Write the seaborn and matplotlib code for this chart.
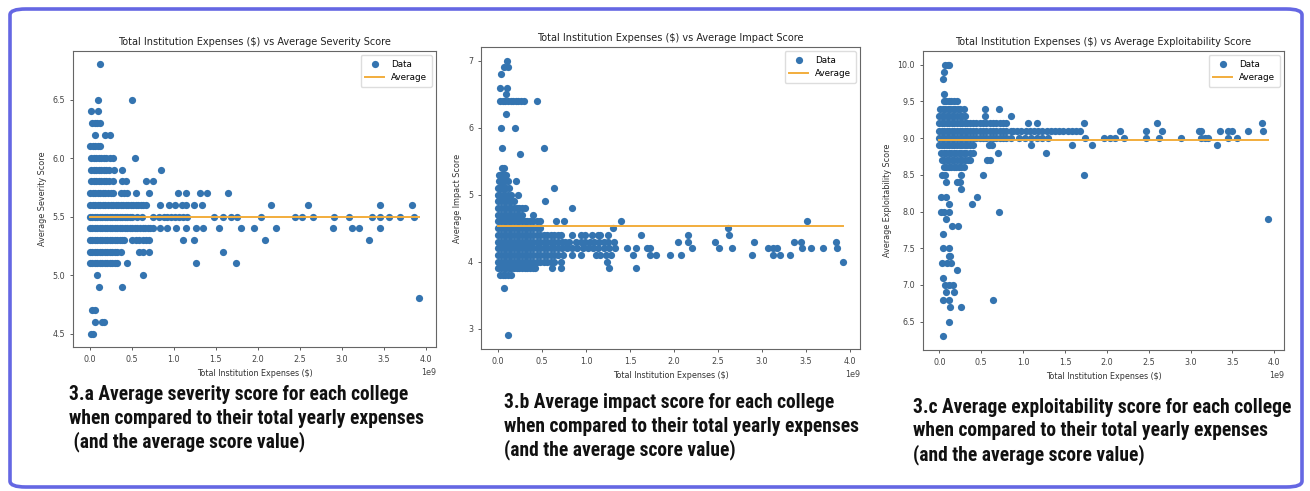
import os
import numpy as np
import pandas as pd
import matplotlib
matplotlib.use('Agg')
import matplotlib.pyplot as plt
import seaborn as sns
from matplotlib.patches import FancyBboxPatch
from matplotlib import font_manager as fm

# Expenses are in units of 1e9 dollars, one list of x values per score level

# 3.a Severity
sev_levels = [6.8, 6.5, 6.4, 6.3, 6.2, 6.1, 6.0, 5.9, 5.8, 5.7, 5.6, 5.5, 5.4, 5.3, 5.2, 5.1, 5.0, 4.9, 4.8, 4.7, 4.6, 4.5]
sev_xs = [
    [0.12],
    [0.10, 0.51],
    [0.02, 0.10],
    [0.03, 0.06, 0.09, 0.12],
    [0.07, 0.19, 0.24],
    [0.01, 0.04, 0.07, 0.10, 0.13],
    [0.02, 0.05, 0.08, 0.11, 0.14, 0.17, 0.20, 0.24, 0.28, 0.54],
    [0.02, 0.05, 0.08, 0.11, 0.14, 0.17, 0.20, 0.23, 0.29, 0.39, 0.85],
    [0.02, 0.05, 0.08, 0.11, 0.14, 0.17, 0.20, 0.23, 0.28, 0.39, 0.43, 0.67, 0.75],
    [0.01, 0.04, 0.07, 0.10, 0.13, 0.16, 0.19, 0.22, 0.25, 0.28, 0.37, 0.41, 0.45, 0.55, 0.71,
     1.05, 1.15, 1.31, 1.40, 1.64],
    [0.01, 0.04, 0.07, 0.10, 0.13, 0.16, 0.19, 0.22, 0.25, 0.28, 0.31, 0.34, 0.37, 0.40, 0.43,
     0.46, 0.49, 0.52, 0.55, 0.58, 0.61, 0.64, 0.67, 0.84, 0.94, 1.02, 1.10, 1.15, 1.24, 1.34,
     2.16, 2.60, 3.45, 3.83],
    [0.00, 0.03, 0.06, 0.09, 0.12, 0.15, 0.18, 0.21, 0.24, 0.27, 0.30, 0.33, 0.36, 0.39, 0.42,
     0.45, 0.48, 0.50, 0.57, 0.62, 0.75, 0.83, 0.88, 0.92, 0.97, 1.02, 1.06, 1.11, 1.16, 1.48,
     1.59, 1.68, 1.75, 2.04, 2.44, 2.52, 2.66, 2.90, 3.08, 3.35, 3.45, 3.56, 3.69, 3.86],
    [0.00, 0.03, 0.06, 0.09, 0.12, 0.15, 0.18, 0.21, 0.24, 0.27, 0.30, 0.33, 0.36, 0.39, 0.42,
     0.45, 0.48, 0.51, 0.54, 0.57, 0.60, 0.63, 0.66, 0.69, 0.72, 0.75, 0.84, 0.92, 1.03, 1.15,
     1.27, 1.35, 1.54, 1.80, 1.96, 2.21, 2.89, 3.12, 3.20, 3.45],
    [0.00, 0.03, 0.06, 0.09, 0.12, 0.15, 0.18, 0.21, 0.24, 0.27, 0.30, 0.33, 0.36, 0.39, 0.41,
     0.51, 0.55, 0.59, 0.63, 0.67, 0.71, 1.11, 1.24, 2.08, 3.32],
    [0.00, 0.03, 0.06, 0.09, 0.12, 0.15, 0.18, 0.21, 0.24, 0.27, 0.30, 0.33, 0.37, 0.59, 0.63,
     0.71, 1.59],
    [0.00, 0.03, 0.06, 0.09, 0.12, 0.15, 0.18, 0.21, 0.24, 0.27, 0.30, 0.33, 0.44, 1.27, 1.74],
    [0.09, 0.63],
    [0.11, 0.39],
    [3.92],
    [0.03, 0.07],
    [0.06, 0.15, 0.17],
    [0.02, 0.04],
]
sev_avg = 5.495

# 3.b Impact
imp_levels = [7.0, 6.9, 6.8, 6.6, 6.5, 6.4, 6.2, 6.0, 5.7, 5.6, 5.4, 5.3, 5.2, 5.1, 5.0, 4.9, 4.8, 4.7, 4.6, 4.5, 4.4, 4.3, 4.2, 4.1, 4.0, 3.9, 3.8, 3.6, 2.9]
imp_xs = [
    [0.10],
    [0.07, 0.11],
    [0.03],
    [0.02, 0.10],
    [0.09],
    [0.02, 0.05, 0.08, 0.11, 0.14, 0.17, 0.20, 0.23, 0.26, 0.29, 0.44],
    [0.09],
    [0.03, 0.19],
    [0.04, 0.52],
    [0.25],
    [0.04, 0.07],
    [0.01, 0.03, 0.05, 0.07, 0.09],
    [0.01, 0.03, 0.05, 0.08, 0.11, 0.20],
    [0.00, 0.02, 0.04, 0.06, 0.09, 0.12, 0.63],
    [0.00, 0.02, 0.05, 0.08, 0.11, 0.14, 0.23],
    [0.00, 0.03, 0.06, 0.09, 0.12, 0.15, 0.18, 0.53],
    [0.00, 0.03, 0.06, 0.09, 0.12, 0.15, 0.18, 0.21, 0.24, 0.27, 0.30, 0.84],
    [0.00, 0.03, 0.06, 0.09, 0.12, 0.15, 0.18, 0.21, 0.24, 0.27, 0.39],
    [0.00, 0.03, 0.06, 0.09, 0.12, 0.15, 0.18, 0.21, 0.24, 0.27, 0.30, 0.33, 0.36, 0.40, 0.44,
     0.48, 0.66, 0.75, 1.40, 3.51],
    [0.00, 0.03, 0.06, 0.09, 0.12, 0.15, 0.18, 0.21, 0.24, 0.27, 0.30, 0.33, 0.36, 0.40, 0.44,
     0.48, 1.31, 2.61],
    [0.00, 0.03, 0.06, 0.09, 0.12, 0.15, 0.18, 0.21, 0.24, 0.27, 0.30, 0.33, 0.36, 0.40, 0.44,
     0.48, 0.52, 0.56, 0.60, 0.64, 0.68, 0.71, 0.84, 0.94, 0.99, 1.07, 1.13, 1.16, 1.25, 1.63,
     2.16, 2.62],
    [0.00, 0.03, 0.06, 0.09, 0.12, 0.15, 0.18, 0.21, 0.24, 0.27, 0.30, 0.33, 0.36, 0.40, 0.44,
     0.48, 0.52, 0.56, 0.60, 0.64, 0.68, 0.72, 0.76, 0.80, 0.89, 0.94, 0.99, 1.04, 1.09, 1.15,
     1.20, 1.25, 1.32, 2.05, 2.16, 2.47, 2.91, 3.36, 3.45, 3.84],
    [0.00, 0.03, 0.06, 0.09, 0.12, 0.15, 0.18, 0.21, 0.24, 0.27, 0.30, 0.33, 0.36, 0.40, 0.44,
     0.48, 0.52, 0.56, 0.60, 0.64, 0.68, 0.72, 0.78, 0.84, 0.90, 0.96, 1.02, 1.08, 1.14, 1.20,
     1.26, 1.33, 1.47, 1.57, 1.69, 1.73, 2.20, 2.51, 2.66, 3.07, 3.13, 3.17, 3.46, 3.56, 3.69,
     3.86],
    [0.00, 0.03, 0.06, 0.09, 0.12, 0.15, 0.18, 0.21, 0.24, 0.27, 0.30, 0.33, 0.36, 0.40, 0.44,
     0.48, 0.52, 0.56, 0.60, 0.64, 0.68, 0.74, 0.84, 0.94, 1.11, 1.16, 1.23, 1.28, 1.53, 1.73,
     1.80, 1.95, 2.08, 2.89, 3.13, 3.21, 3.32],
    [0.00, 0.03, 0.06, 0.09, 0.12, 0.15, 0.18, 0.21, 0.24, 0.27, 0.30, 0.33, 0.36, 0.40, 0.44,
     0.48, 0.52, 0.56, 0.60, 0.64, 0.71, 1.24, 3.92],
    [0.00, 0.03, 0.06, 0.09, 0.12, 0.15, 0.18, 0.21, 0.24, 0.27, 0.30, 0.33, 0.36, 0.39, 0.42,
     0.61, 0.71, 1.26, 1.57],
    [0.02, 0.05, 0.08, 0.11, 0.14],
    [0.06],
    [0.11],
]
imp_avg = 4.53

# 3.c Exploitability
exp_levels = [10.0, 9.9, 9.8, 9.6, 9.5, 9.4, 9.3, 9.2, 9.1, 9.0, 8.9, 8.8, 8.7, 8.6, 8.5, 8.4, 8.3, 8.2, 8.1, 8.0, 7.9, 7.8, 7.7, 7.5, 7.4, 7.3, 7.2, 7.1, 7.0, 6.9, 6.8, 6.7, 6.5, 6.3]
exp_xs = [
    [0.07, 0.10, 0.12],
    [0.06],
    [0.04],
    [0.06],
    [0.05, 0.08, 0.11, 0.14, 0.17, 0.21],
    [0.01, 0.04, 0.07, 0.10, 0.13, 0.16, 0.19, 0.22, 0.25, 0.29, 0.54, 0.71],
    [0.00, 0.03, 0.06, 0.09, 0.12, 0.15, 0.18, 0.21, 0.24, 0.27, 0.31, 0.54, 0.85],
    [0.00, 0.03, 0.06, 0.09, 0.12, 0.15, 0.18, 0.21, 0.24, 0.27, 0.30, 0.33, 0.36, 0.40, 0.44,
     0.48, 0.52, 0.56, 0.60, 0.64, 0.68, 0.72, 0.76, 0.79, 1.06, 1.16, 1.73, 2.60, 3.85],
    [0.00, 0.03, 0.06, 0.09, 0.12, 0.15, 0.18, 0.21, 0.24, 0.27, 0.30, 0.33, 0.36, 0.40, 0.44,
     0.48, 0.52, 0.56, 0.60, 0.64, 0.68, 0.72, 0.76, 0.80, 0.85, 0.88, 0.93, 0.98, 1.03, 1.08,
     1.13, 1.18, 1.23, 1.28, 1.33, 1.38, 1.43, 1.48, 1.53, 1.58, 1.63, 1.68, 2.16, 2.47, 2.66,
     3.10, 3.12, 3.35, 3.45, 3.50, 3.69, 3.87],
    [0.00, 0.03, 0.06, 0.09, 0.12, 0.15, 0.18, 0.21, 0.24, 0.27, 0.30, 0.33, 0.36, 0.40, 0.44,
     0.48, 0.52, 0.56, 0.60, 0.64, 0.68, 0.72, 0.76, 0.80, 0.85, 0.95, 1.02, 1.09, 1.16, 1.23,
     1.30, 1.74, 1.96, 2.04, 2.10, 2.20, 2.47, 2.62, 2.89, 3.13, 3.17, 3.21, 3.45, 3.55],
    [0.00, 0.03, 0.06, 0.09, 0.12, 0.15, 0.18, 0.21, 0.24, 0.27, 0.30, 0.33, 0.36, 0.40, 0.59,
     0.63, 1.09, 1.58, 1.82, 3.32],
    [0.02, 0.05, 0.08, 0.11, 0.14, 0.17, 0.20, 0.23, 0.26, 0.29, 0.32, 0.36, 0.40, 0.70, 1.27],
    [0.03, 0.06, 0.09, 0.12, 0.15, 0.18, 0.21, 0.24, 0.27, 0.30, 0.34, 0.37, 0.57, 0.60],
    [0.05, 0.08, 0.11, 0.14, 0.17, 0.20, 0.23, 0.26, 0.29],
    [0.03, 0.07, 0.26, 0.52, 1.73],
    [0.08, 0.21, 0.24],
    [0.26],
    [0.02, 0.08, 0.45],
    [0.11, 0.39],
    [0.02, 0.05, 0.12, 0.71],
    [0.08, 3.92],
    [0.15, 0.22],
    [0.04],
    [0.04, 0.12],
    [0.11, 0.13],
    [0.03, 0.09, 0.14],
    [0.21],
    [0.04],
    [0.07, 0.11, 0.16],
    [0.08, 0.18],
    [0.04, 0.12, 0.64],
    [0.13, 0.26],
    [0.12],
    [0.04],
]
exp_avg = 8.98

titles = ['Total Institution Expenses ($) vs Average Severity Score',
          'Total Institution Expenses ($) vs Average Impact Score',
          'Total Institution Expenses ($) vs Average Exploitability Score']
ylabels = ['Average Severity Score', 'Average Impact Score', 'Average Exploitability Score']
captions = [
    ['3.a Average severity score for each college',
     'when compared to their total yearly expenses',
     ' (and the average score value)'],
    ['3.b Average impact score for each college',
     'when compared to their total yearly expenses',
     '(and the average score value)'],
    ['3.c Average exploitability score for each college',
     'when compared to their total yearly expenses',
     '(and the average score value)'],
]


def to_frame(levels, xs):
    rows = []
    for lvl, xl in zip(levels, xs):
        for x in xl:
            rows.append((x * 1e9, lvl))
    return pd.DataFrame(rows, columns=['expenses', 'score'])


# captions are set in a narrow bold face; look for a (semi)condensed bold font file
def caption_font():
    prefs = ['liberationsansnarrow-bold', 'notosans-semicondensedbold.', 'opensans-semicondensedbold.',
             'opensans_semicondensed-bold.', 'notosans-condensedbold.', 'opensans-condensedbold.',
             'robotocondensed-bold.', 'roboto_condensed-bold.', 'dejavusanscondensed-bold.']
    files = {os.path.basename(f.fname).lower(): f.fname for f in fm.fontManager.ttflist}
    for p in prefs:
        for name, path in files.items():
            if name.startswith(p):
                return fm.FontProperties(fname=path)
    return fm.FontProperties(family='Liberation Sans', weight='bold')


W, H = 1310, 491
fig = plt.figure(figsize=(W / 100, H / 100), dpi=100)

# rounded frame around the whole screenshot
frame = FancyBboxPatch((10 / W, 1 - 487 / H), 1292 / W, 478 / H,
                       boxstyle='round,pad=0,rounding_size=0.012',
                       transform=fig.transFigure, facecolor='none',
                       edgecolor='#6567e3', linewidth=2.6, zorder=0)
fig.patches.append(frame)

# axes boxes in pixels: left, top, right, bottom
boxes = [(73, 51, 436, 347), (481, 47, 860, 349), (923, 51, 1284, 350)]
cap_pos = [(69, 400), (504, 408), (913, 413)]
panels = [(sev_levels, sev_xs, sev_avg), (imp_levels, imp_xs, imp_avg), (exp_levels, exp_xs, exp_avg)]

# fit caption size so the second line is ~356 px wide, as in the screenshot
cap_fp = caption_font()
renderer = fig.canvas.get_renderer()
probe = fig.text(0, 0, captions[0][1], fontproperties=cap_fp, fontsize=12)
cap_size = 12 * 356 / probe.get_window_extent(renderer).width
probe.remove()

for i, (levels, xs, avg) in enumerate(panels):
    l, t, r, b = boxes[i]
    ax = fig.add_axes([l / W, 1 - b / H, (r - l) / W, (b - t) / H])
    df = to_frame(levels, xs)
    sns.scatterplot(data=df, x='expenses', y='score', ax=ax, s=27, color='#3474b0',
                    linewidth=0, label='Data', zorder=2)
    xmin, xmax = df['expenses'].min(), df['expenses'].max()
    ax.plot([xmin, xmax], [avg, avg], color='#f2ad3c', lw=1.4, label='Average', zorder=3)
    ax.set_title(titles[i], fontsize=7, color='#222222', pad=4)
    ax.set_xlabel('Total Institution Expenses ($)', fontsize=5.8, color='#333333')
    ax.set_ylabel(ylabels[i], fontsize=5.8, color='#333333')
    ax.tick_params(labelsize=5.8, length=2.2, width=0.6, colors='#444444')
    ax.xaxis.get_offset_text().set_fontsize(5.8)
    ax.xaxis.get_offset_text().set_color('#444444')
    for sp in ax.spines.values():
        sp.set_color('#666666')
        sp.set_linewidth(0.8)
    ax.legend(loc='upper right', fontsize=6.3, framealpha=1, edgecolor='#dddddd',
              borderpad=0.5, handlelength=2.2)

    cx, cy = cap_pos[i]
    for k, line in enumerate(captions[i]):
        fig.text(cx / W, 1 - (cy + k * 23.5) / H, line, fontproperties=cap_fp,
                 fontsize=cap_size, color='#111111', va='baseline', ha='left')

fig.savefig('out.png', dpi=100)
